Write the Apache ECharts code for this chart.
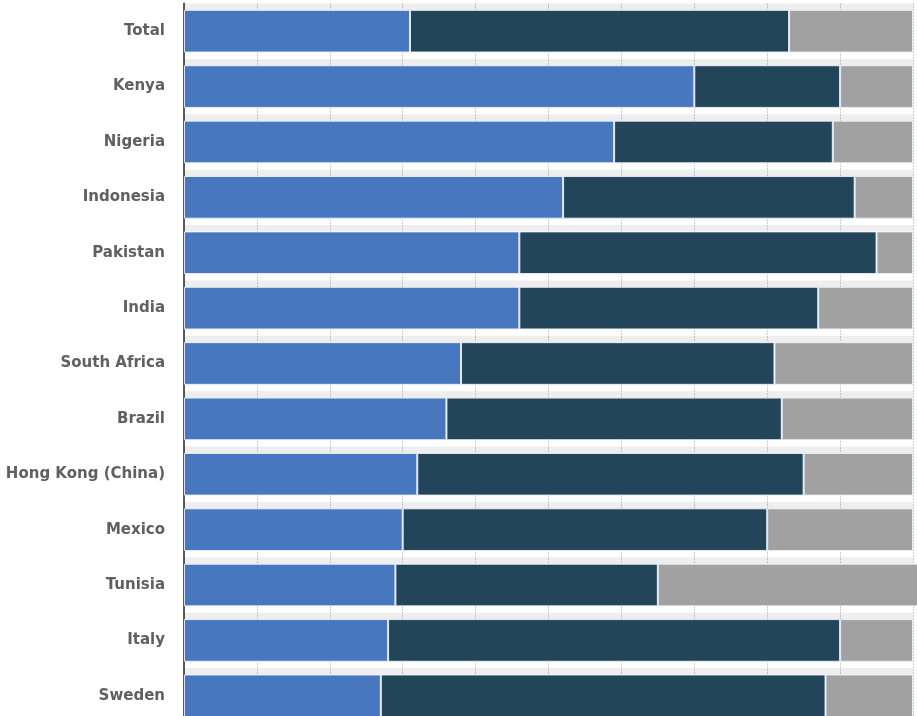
<!DOCTYPE html>
<html>
<head>
<meta charset="utf-8">
<script src="https://cdn.jsdelivr.net/npm/echarts@6/dist/echarts.min.js"></script>
<style>
html,body{margin:0;padding:0;background:#fff;overflow:hidden;width:917px;height:716px;}
#chart{width:917px;height:730px;}
</style>
</head>
<body>
<div id="chart"></div>
<script>
var categories = ["Total","Kenya","Nigeria","Indonesia","Pakistan","India","South Africa","Brazil","Hong Kong (China)","Mexico","Tunisia","Italy","Sweden"];
var blueValues = [31,70,59,52,46,46,38,36,32,30,29,28,27];
var darkValues = [52,20,30,40,49,41,43,46,53,50,36,62,61];
var greyValues = [17,10,11,8,5,13,19,18,15,20,37,10,12];
var xTicks = [0,10,20,30,40,50,60,70,80,90,100];

var cats = categories.slice().reverse();
function rev(a){return a.slice().reverse();}
var bgValues = categories.map(function(){return 100;});

var chart = echarts.init(document.getElementById('chart'), null, {renderer:'canvas'});
var border = {borderColor:'rgba(235,240,248,0.9)', borderWidth:1};
chart.setOption({
  animation:false,
  backgroundColor:'#fff',
  grid:{left:184, width:729, top:3.5, height:720, containLabel:false},
  xAxis:[{
    type:'value', min:xTicks[0], max:xTicks[xTicks.length-1], interval:10,
    axisLabel:{show:false}, axisTick:{show:false}, axisLine:{show:false},
    splitLine:{show:true, lineStyle:{color:'#9a9a9a', type:[1,2], width:1}}
  },{
    type:'value', min:0, max:100, show:false
  }],
  yAxis:[{
    type:'category', data:cats,
    axisTick:{show:false},
    axisLine:{show:true, lineStyle:{color:'#5a5a5a', width:2}},
    axisLabel:{color:'#606060', fontFamily:'DejaVu Sans', fontSize:15, fontWeight:'bold', margin:19},
    splitLine:{show:false}
  },{
    type:'category', data:cats, show:false
  }],
  series:[
    {
      type:'bar', xAxisIndex:1, yAxisIndex:1, data:bgValues, barWidth:'100%', z:0, silent:true,
      itemStyle:{color:{type:'linear', x:0, y:0, x2:0, y2:1, colorStops:[
        {offset:0, color:'rgba(0,0,0,0.065)'},
        {offset:0.115, color:'rgba(0,0,0,0.065)'},
        {offset:0.116, color:'rgba(255,255,255,0)'},
        {offset:1, color:'rgba(255,255,255,0)'}
      ]}}
    },
    {type:'bar', stack:'s', data:rev(blueValues), barWidth:'77%', z:3, clip:false,
     itemStyle:Object.assign({color:'#4677bf'}, border)},
    {type:'bar', stack:'s', data:rev(darkValues), barWidth:'77%', z:3, clip:false,
     itemStyle:Object.assign({color:'#23455a'}, border)},
    {type:'bar', stack:'s', data:rev(greyValues), barWidth:'77%', z:3, clip:false,
     itemStyle:Object.assign({color:'#a1a1a1'}, border)}
  ]
});
</script>
</body>
</html>
